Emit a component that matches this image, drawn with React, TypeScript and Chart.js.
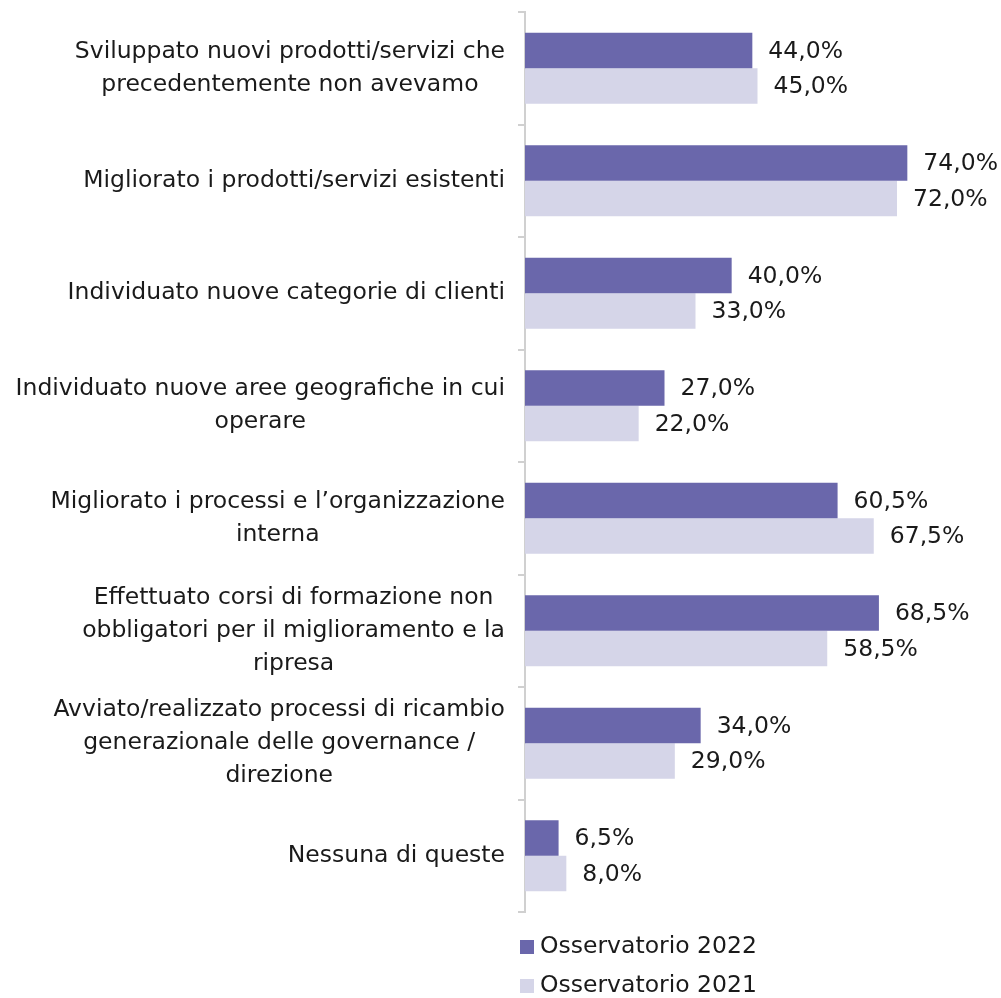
import React, { useEffect, useRef } from "react";
import { Chart, registerables } from "chart.js";

Chart.register(...registerables);

const categories: string[][] = [
  ["Sviluppato nuovi prodotti/servizi che", "precedentemente non avevamo"],
  ["Migliorato i prodotti/servizi esistenti"],
  ["Individuato nuove categorie di clienti"],
  ["Individuato nuove aree geografiche in cui", "operare"],
  ["Migliorato i processi e l\u2019organizzazione", "interna"],
  ["Effettuato corsi di formazione non", "obbligatori per il miglioramento e la", "ripresa"],
  ["Avviato/realizzato processi di ricambio", "generazionale delle governance /", "direzione"],
  ["Nessuna di queste"],
];

const series2022: number[] = [44.0, 74.0, 40.0, 27.0, 60.5, 68.5, 34.0, 6.5];
const series2021: number[] = [45.0, 72.0, 33.0, 22.0, 67.5, 58.5, 29.0, 8.0];

const seriesNames: string[] = ["Osservatorio 2022", "Osservatorio 2021"];
const seriesColors: string[] = ["#6a67ab", "#d5d5e8"];

const FONT = '"DejaVu Sans", Verdana, sans-serif';
const FONT_SIZE = 23.5;

const fmt = (v: number) => v.toFixed(1).replace(".", ",") + "%";

const labelsPlugin = {
  id: "customLabels",
  afterDraw(chart: any) {
    const ctx = chart.ctx;
    const yScale = chart.scales.y;
    const area = chart.chartArea;
    ctx.save();
    ctx.font = `${FONT_SIZE}px ${FONT}`;
    ctx.fillStyle = "#1a1a1a";
    ctx.textBaseline = "middle";
    // category labels: block right-aligned, lines centered
    const rightEdge = area.left - 20;
    const lineH = 33;
    categories.forEach((lines, i) => {
      const cy = yScale.getPixelForValue(i);
      const maxW = Math.max(...lines.map((l) => ctx.measureText(l).width));
      const cx = rightEdge - maxW / 2;
      ctx.textAlign = "center";
      lines.forEach((l, j) => {
        const y = cy + (j - (lines.length - 1) / 2) * lineH;
        ctx.fillText(l, cx, y);
      });
    });
    // data labels
    ctx.textAlign = "left";
    chart.data.datasets.forEach((ds: any, di: number) => {
      const meta = chart.getDatasetMeta(di);
      meta.data.forEach((bar: any, i: number) => {
        ctx.fillText(fmt(ds.data[i]), bar.x + 16, bar.y + 1);
      });
    });
    // legend
    seriesNames.forEach((name, i) => {
      const y = area.bottom + 35 + i * 39;
      ctx.fillStyle = seriesColors[i];
      ctx.fillRect(area.left - 5, y - 7, 14, 14);
      ctx.fillStyle = "#1a1a1a";
      ctx.textAlign = "left";
      ctx.fillText(name, area.left + 15, y);
    });
    ctx.restore();
  },
};

export default function App() {
  const ref = useRef<HTMLCanvasElement | null>(null);
  useEffect(() => {
    if (!ref.current) return;
    const chart = new Chart(ref.current, {
      type: "bar",
      data: {
        labels: categories.map((c) => c.join(" ")),
        datasets: [
          {
            label: seriesNames[0],
            data: series2022,
            backgroundColor: seriesColors[0],
            categoryPercentage: 0.63,
            barPercentage: 1.0,
          },
          {
            label: seriesNames[1],
            data: series2021,
            backgroundColor: seriesColors[1],
            categoryPercentage: 0.63,
            barPercentage: 1.0,
          },
        ],
      },
      options: {
        indexAxis: "y",
        animation: false,
        responsive: false,
        layout: { padding: { top: 12, bottom: 86, right: 11, left: 0 } },
        plugins: {
          legend: { display: false },
          tooltip: { enabled: false },
        },
        scales: {
          x: { display: false, min: 0, max: 90 },
          y: {
            afterFit: (s: any) => {
              s.width = 525;
            },
            ticks: { display: false },
            grid: {
              display: true,
              drawOnChartArea: false,
              drawTicks: true,
              tickLength: 7,
              color: "#d0d0d0",
              lineWidth: 2,
              offset: true,
            },
            border: { display: true, color: "#d0d0d0", width: 2 },
          },
        },
      },
      plugins: [labelsPlugin],
    });
    return () => chart.destroy();
  }, []);
  return (
    <div style={{ position: "absolute", left: 0, top: 0, width: 1001, height: 998, background: "#fff" }}>
      <canvas ref={ref} width={1001} height={998} style={{ display: "block" }} />
    </div>
  );
}
